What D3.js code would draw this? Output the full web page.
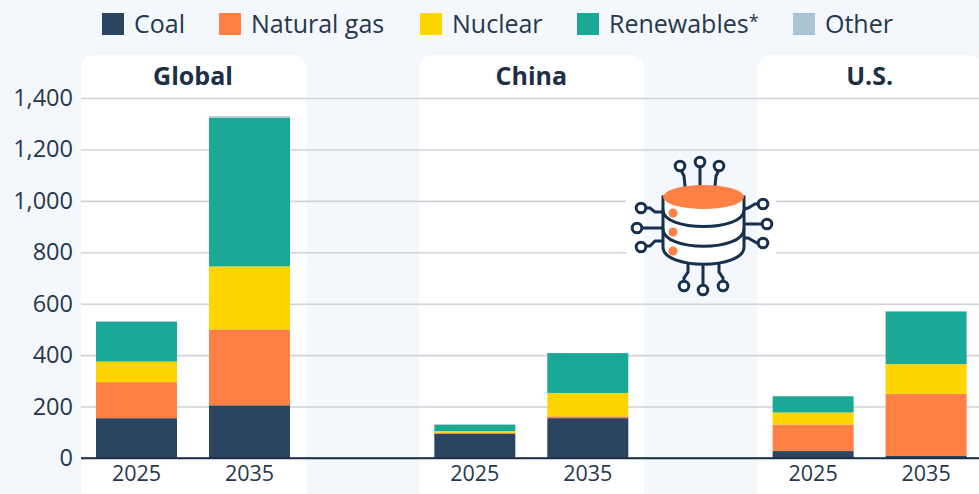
<!DOCTYPE html>
<html><head><meta charset="utf-8">
<script src="https://cdn.jsdelivr.net/npm/d3@7"></script>
<style>html,body{margin:0;padding:0;background:#f4f7fb;overflow:hidden}svg{display:block}text{font-family:"Open Sans",sans-serif}</style>
</head><body><svg id="c" width="979" height="494"></svg>
<script>
const regions = ["Global","China","U.S."];
const years = ["2025","2035"];
const seriesNames = ["Coal","Natural gas","Nuclear","Renewables","Other"];
const seriesMarks = ["","","","*",""];
const seriesColors = ["#2b4560","#ff8045","#ffd500","#1aa897","#a9c4d2"];
const coal       = [155,205, 95,155, 27,  8];
const naturalGas = [140,295,  3,  7,103,242];
const nuclear    = [ 80,245,  7, 91, 47,115];
const renewables = [155,578, 25,155, 63,205];
const other      = [  3,  6,  0,  0,  0,  0];
const yTicks = [0,200,400,600,800,1000,1200,1400];
const legendX = [102,219,420,577,793];

const W=979,H=494,BG="#f4f7fb",INK="#1c2f47";
const svg=d3.select("#c");
svg.append("rect").attr("width",W).attr("height",H).attr("fill",BG);
const y=d3.scaleLinear().domain([0,1400]).range([458,98]);
const panel=d3.scaleBand().domain(regions).range([81,982.6]).paddingInner(0.335).paddingOuter(0);
const rows=[];
regions.forEach((r,i)=>years.forEach((yr,j)=>{const k=i*2+j;
  rows.push({region:r,year:yr,Coal:coal[k],"Natural gas":naturalGas[k],Nuclear:nuclear[k],Renewables:renewables[k],Other:other[k]});}));
const stacked=d3.stack().keys(seriesNames)(rows);
// panels
svg.selectAll("rect.panel").data(regions).join("rect").attr("class","panel")
  .attr("x",d=>panel(d)).attr("y",55).attr("width",panel.bandwidth()).attr("height",H).attr("rx",14).attr("fill","#fff");
svg.selectAll("text.title").data(regions).join("text").attr("class","title")
  .attr("x",d=>panel(d)+panel.bandwidth()/2-0.5).attr("y",85).attr("text-anchor","middle")
  .attr("font-size",25).attr("font-weight",700).attr("fill",INK).text(d=>d);
// gridlines and y axis
const yAxis=svg.append("g").attr("transform","translate(81,0)")
  .call(d3.axisLeft(y).tickValues(yTicks).tickSize(-898).tickPadding(8).tickFormat(d3.format(",")));
yAxis.select(".domain").remove();
yAxis.selectAll("line").attr("stroke","#cfd3d8").attr("stroke-width",1.6);
yAxis.selectAll("line").filter(d=>d===0).attr("stroke",INK).attr("stroke-width",1.6);
yAxis.selectAll("text").attr("font-size",23.5).attr("fill","#25384f").attr("font-family",'"Open Sans",sans-serif');
// x bands per panel
const xFor=r=>d3.scaleBand().domain(years).range([panel(r)+15,panel(r)+209]).paddingInner(0.283).paddingOuter(0);
svg.append("g").selectAll("g").data(stacked).join("g").attr("fill",(d,i)=>seriesColors[i])
  .selectAll("rect").data(d=>d).join("rect")
  .attr("x",d=>xFor(d.data.region)(d.data.year))
  .attr("width",d=>xFor(d.data.region).bandwidth())
  .attr("y",d=>y(d[1])).attr("height",d=>y(d[0])-y(d[1]));
regions.forEach(r=>{
  const ax=svg.append("g").attr("transform","translate(0,458)").call(d3.axisBottom(xFor(r)).tickSize(0).tickPadding(8));
  ax.select(".domain").remove();
  ax.selectAll("text").attr("font-size",21.5).attr("fill","#25384f").attr("font-family",'"Open Sans",sans-serif');
});
// baseline over bars
svg.append("line").attr("x1",81).attr("x2",W).attr("y1",y(0)).attr("y2",y(0)).attr("stroke",INK).attr("stroke-width",1.6);
// legend
const leg=svg.append("g").selectAll("g").data(seriesNames).join("g").attr("transform",(d,i)=>`translate(${legendX[i]},13)`);
leg.append("rect").attr("width",22).attr("height",22).attr("fill",(d,i)=>seriesColors[i]);
const lt=leg.append("text").attr("x",32).attr("y",20).attr("font-size",25).attr("fill","#25384f").text(d=>d);
lt.append("tspan").attr("font-size",18).attr("dy",-5).text((d,i)=>seriesMarks[i]);
// icon: cut-outs hiding gridlines behind it
const panelUS=panel("U.S."),panelCN=panel("China")+panel.bandwidth();
svg.append("rect").attr("x",626).attr("y",190).attr("width",panelCN-626).attr("height",75).attr("fill","#fff");
svg.append("rect").attr("x",panelCN).attr("y",190).attr("width",panelUS-panelCN).attr("height",75).attr("fill",BG);
svg.append("rect").attr("x",panelUS).attr("y",190).attr("width",776-panelUS).attr("height",75).attr("fill","#fff");
const ic=svg.append("g").attr("fill","none").attr("stroke","#17304d").attr("stroke-width",3).attr("stroke-linecap","round");
const wires=[
 "M685,186L684,176L681,170","M700,186V167","M715,186L716,176L719,170",
 "M664,212H655L650,208H645","M664,228H642","M664,241H655L650,246H645",
 "M744,209L748,208L755,204H759","M744,224H763","M744,238H748L757,243H759",
 "M688,264V272L684,278V281","M703,264V285","M719,264V272L723,278V281"];
ic.selectAll("path.w").data(wires).join("path").attr("class","w").attr("d",d=>d);
const nodes=[[680,166],[700,162],[719,166],[641,208],[637,228],[641,247],[763,204],[767,224],[763,243],[684,286],[703,290],[723,286]];
ic.selectAll("circle.n").data(nodes).join("circle").attr("class","n").attr("cx",d=>d[0]).attr("cy",d=>d[1]).attr("r",4.8).attr("fill","#fff");
ic.append("path").attr("fill","#fff").attr("d","M663,197V247C663,270,744,270,744,247V197Z");
ic.append("path").attr("d","M663,210C663,232,744,232,744,210");
ic.append("path").attr("d","M663,229C663,252,744,252,744,229");
svg.append("ellipse").attr("cx",703.5).attr("cy",197).attr("rx",40.5).attr("ry",12).attr("fill","#ff8045");
svg.selectAll("circle.d").data([[673,213],[673,232],[673,251]]).join("circle").attr("class","d")
  .attr("cx",d=>d[0]).attr("cy",d=>d[1]).attr("r",4.5).attr("fill","#ff8045");
</script></body></html>
